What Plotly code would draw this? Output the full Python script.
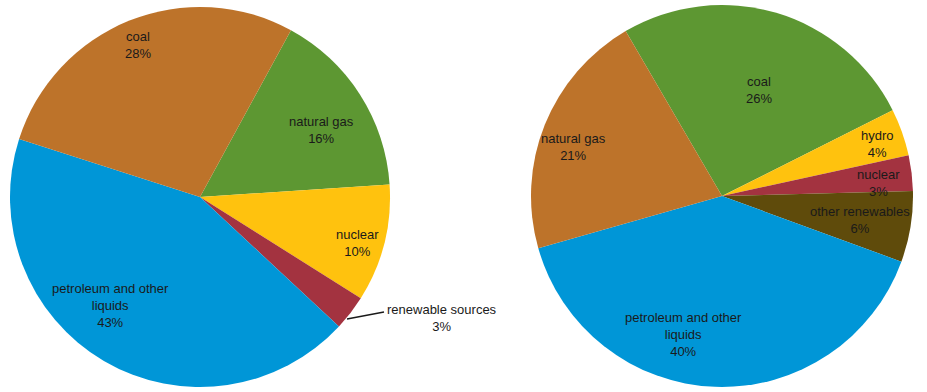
import plotly.graph_objects as go

W, H = 927, 392

# Left pie data (clockwise order starting at natural gas)
left_labels = ["natural gas", "nuclear", "renewable sources", "petroleum and other liquids", "coal"]
left_values = [16, 10, 3, 43, 28]
left_colors = ["#5d9732", "#ffc20e", "#a33340", "#0096d7", "#bd732a"]
left_text = ["natural gas<br>16%", "nuclear<br>10%", "renewable sources<br>3%",
             "petroleum and other<br>liquids<br>43%", "coal<br>28%"]

# Right pie data (clockwise order starting at coal)
right_labels = ["coal", "hydro", "nuclear", "other renewables", "petroleum and other liquids", "natural gas"]
right_values = [26, 4, 3, 6, 40, 21]
right_colors = ["#5d9732", "#ffc20e", "#a33340", "#5f4b0b", "#0096d7", "#bd732a"]
right_text = ["coal<br>26%", "hydro<br>4%", "nuclear<br>3%", "other renewables<br>6%",
              "petroleum and other<br>liquids<br>40%", "natural gas<br>21%"]

# label positions in pixels (style, not data)
left_label_px = [(321, 130), (357, 243), (442, 318), (110, 305), (138, 45)]
right_label_px = [(759, 90), (877, 144), (878, 183), (860, 220), (683, 334), (573, 147)]

def px2paper(x, y):
    return x / W, 1 - y / H

def domain(cx, cy, r):
    return dict(x=[(cx - r) / W, (cx + r) / W], y=[1 - (cy + r) / H, 1 - (cy - r) / H])

fig = go.Figure()
fig.add_trace(go.Pie(
    labels=left_labels, values=left_values, sort=False, direction="clockwise",
    rotation=28.6, marker=dict(colors=left_colors, line=dict(width=0)),
    textinfo="none", hoverinfo="label+percent", showlegend=False,
    domain=domain(200, 197, 190),
))
fig.add_trace(go.Pie(
    labels=right_labels, values=right_values, sort=False, direction="clockwise",
    rotation=-30.3, marker=dict(colors=right_colors, line=dict(width=0)),
    textinfo="none", hoverinfo="label+percent", showlegend=False,
    domain=domain(722, 196, 191),
))

annos = []
for txt, (x, y) in list(zip(left_text, left_label_px)) + list(zip(right_text, right_label_px)):
    px, py = px2paper(x, y)
    annos.append(dict(x=px, y=py, xref="paper", yref="paper", text=txt, showarrow=False,
                      font=dict(family="Liberation Sans, Arial, sans-serif", size=13, color="#1a1a1a"),
                      xanchor="center", yanchor="middle"))

x0, y0 = px2paper(347, 319)
x1, y1 = px2paper(384, 312)
fig.update_layout(
    width=W, height=H, margin=dict(l=0, r=0, t=0, b=0),
    paper_bgcolor="white", plot_bgcolor="white",
    annotations=annos,
    shapes=[dict(type="line", xref="paper", yref="paper", x0=x0, y0=y0, x1=x1, y1=y1,
                 line=dict(color="#1a1a1a", width=1.5))],
)
fig.write_html("out.html", config={"displayModeBar": False},
               post_script="document.body.style.margin='0';document.body.style.overflow='hidden';")
